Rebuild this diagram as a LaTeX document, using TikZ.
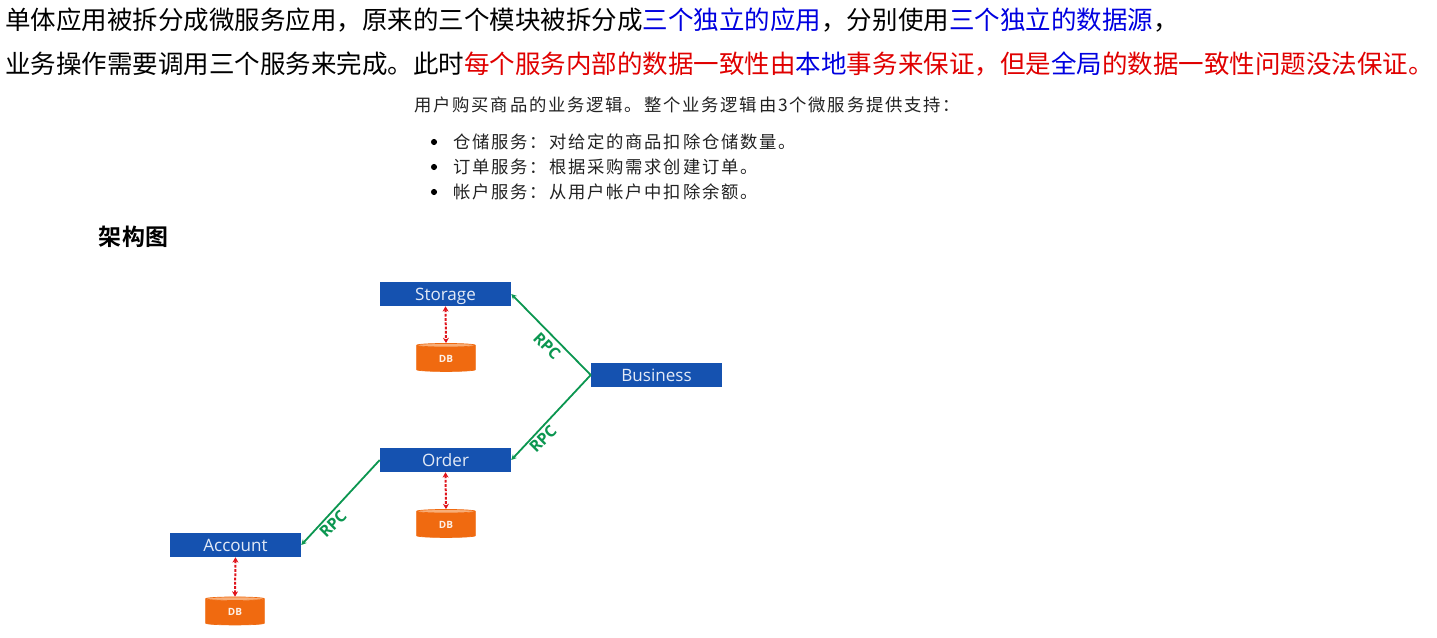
\documentclass[tikz,border=0pt]{standalone}
\usepackage{fontspec}
\usetikzlibrary{arrows.meta,shapes.geometric}
\setmainfont{Open Sans}
\newfontfamily\cjk{Noto Sans CJK SC}
\newfontfamily\cjksmall[LetterSpace=10.5]{Noto Sans CJK SC}
\newfontfamily\cjkbold[BoldFont={Noto Sans CJK SC Bold},LetterSpace=4]{Noto Sans CJK SC}
\definecolor{boxblue}{HTML}{1552B0}
\definecolor{rpcgreen}{HTML}{0B9650}
\definecolor{linkred}{HTML}{E0141C}
\definecolor{dborange}{HTML}{F06A10}
\definecolor{dbtop}{HTML}{F8AE78}
\definecolor{txtblue}{HTML}{0000E0}
\definecolor{txtred}{HTML}{E00000}
\definecolor{smalltxt}{HTML}{222222}
\tikzset{
  headline/.style={anchor=west,inner sep=0pt,font=\cjk\fontsize{19.13pt}{24pt}\selectfont,text=black},
  smallline/.style={anchor=west,inner sep=0pt,font=\cjksmall\fontsize{13pt}{16pt}\selectfont,text=smalltxt},
  bulletdot/.style={circle,fill=black,draw=none,inner sep=0pt,minimum size=4.6pt},
  heading/.style={anchor=west,inner sep=0pt,font=\cjkbold\bfseries\fontsize{17.2pt}{20pt}\selectfont,text=black},
  svc/.style={rectangle,fill=boxblue,draw=none,text=white!88!boxblue,minimum width=98.25pt,minimum height=18pt,inner sep=0pt,text height=9pt,text depth=0pt,font=\fontsize{12.8pt}{14pt}\selectfont},
  dbcyl/.style={cylinder,shape border rotate=90,aspect=0.25,cylinder uses custom fill,cylinder body fill=dborange,cylinder end fill=dbtop,draw=dborange,line width=0.5pt,minimum width=44pt,minimum height=21pt,inner sep=0pt,text=white!90!dborange,font=\bfseries\fontsize{7.5pt}{8pt}\selectfont},
  rpcline/.style={draw=rpcgreen,line width=1.35pt,-{Stealth[length=4pt,width=4pt]}},
  rpclabel/.style={text=rpcgreen,inner sep=0pt,font=\bfseries\fontsize{12pt}{14pt}\selectfont},
  dblink/.style={draw=linkred,line width=1.5pt,dash pattern=on 2pt off 1.2pt,{Stealth[length=4pt,width=4.5pt]}-{Stealth[length=4pt,width=4.5pt]}}
}
\begin{document}
\begin{tikzpicture}[x=0.75pt,y=-0.75pt]
\useasboundingbox[fill=white] (0,0) rectangle (1437,638);

\node[headline] (l1) at (5,20) {单体应用被拆分成微服务应用，原来的三个模块被拆分成\textcolor{txtblue}{三个独立的应用}，分别使用\textcolor{txtblue}{三个独立的数据源}，};
\node[headline] (l2) at (5,64) {业务操作需要调用三个服务来完成。此时\textcolor{txtred}{每个服务内部的数据一致性由}\textcolor{txtblue}{本地}\textcolor{txtred}{事务来保证，但是}\textcolor{txtblue}{全局}\textcolor{txtred}{的数据一致性问题没法保证。}};

\node[smallline] (intro) at (414,105) {用户购买商品的业务逻辑。整个业务逻辑由3个微服务提供支持：};
\node[bulletdot] (b1) at (434,142) {};
\node[bulletdot] (b2) at (434,167) {};
\node[bulletdot] (b3) at (434,192) {};
\node[smallline] (t1) at (453,142) {仓储服务：对给定的商品扣除仓储数量。};
\node[smallline] (t2) at (453,167) {订单服务：根据采购需求创建订单。};
\node[smallline] (t3) at (453,192) {帐户服务：从用户帐户中扣除余额。};

\node[heading] (arch) at (98,237) {架构图};

\node[svc] (storage) at (445.5,294) {Storage};
\node[svc] (business) at (656.5,375) {Business};
\node[svc] (order) at (445.5,460) {Order};
\node[svc] (account) at (235.5,545) {Account};

\node[dbcyl] (db1) at (446,358.5) {DB};
\node[dbcyl] (db2) at (446,524.5) {DB};
\node[dbcyl] (db3) at (235,612) {DB};

\draw[rpcline] (business.west) -- (storage.east);
\draw[rpcline] (business.west) -- (order.east);
\draw[rpcline] (order.west) -- (account.east);

\draw[dblink] (storage.south) -- (db1.north);
\draw[dblink] (order.south) -- (db2.north);
\draw[dblink] (account.south) -- (db3.north);

\node[rpclabel,rotate=-45] (r1) at (547,346) {RPC};
\node[rpclabel,rotate=45] (r2) at (543,439) {RPC};
\node[rpclabel,rotate=45] (r3) at (333,524) {RPC};
\end{tikzpicture}
\end{document}
